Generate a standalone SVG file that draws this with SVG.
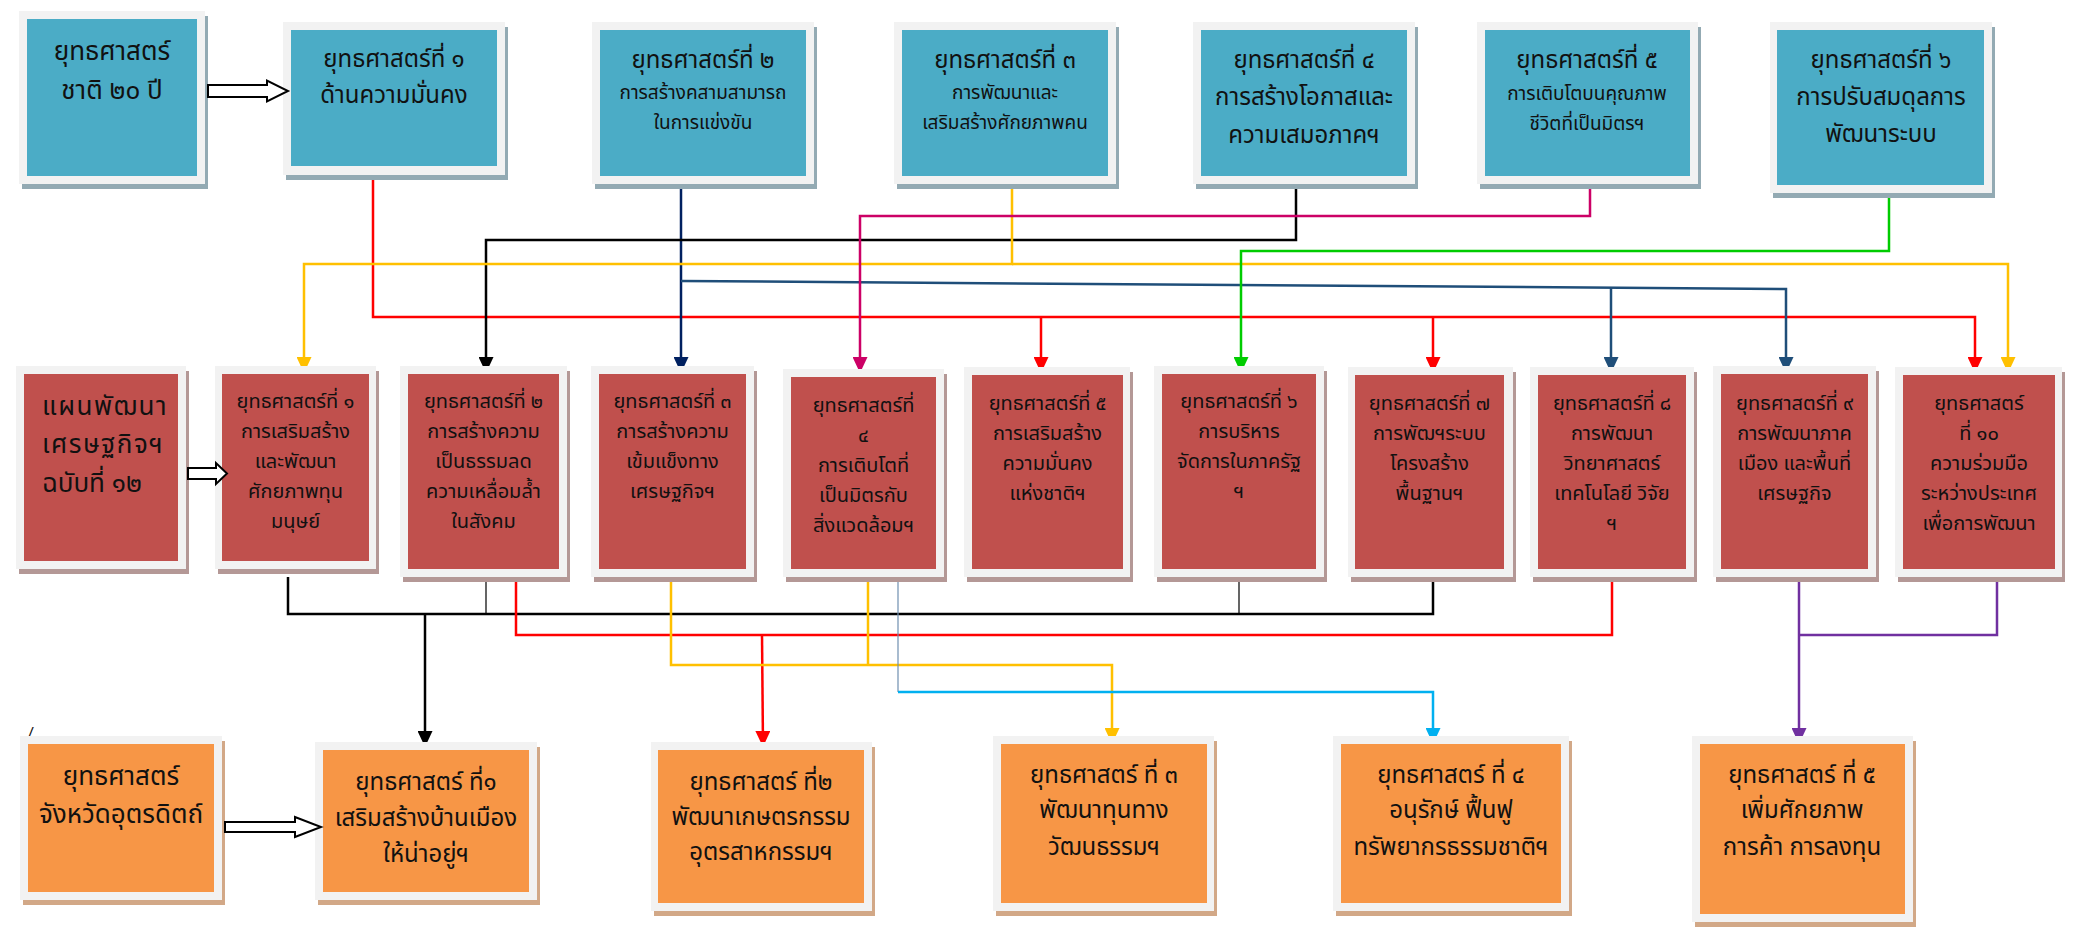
<svg xmlns="http://www.w3.org/2000/svg" width="2078" height="931" viewBox="0 0 2078 931">
<style>
.fr{fill:#f2f2f2}
.st{fill:#93aab3}
.sr{fill:#b49896}
.so{fill:#d2a887}
.teal{fill:#4bacc6}
.red{fill:#c0504d}
.org{fill:#f79646}
text{font-family:"Noto Sans Thai","Noto Sans","DejaVu Sans",sans-serif;fill:#111;text-anchor:middle}
.s26{font-size:26px}.s24{font-size:24px}.s19{font-size:19px}.s20{font-size:20px}
.lft{text-anchor:start;font-size:26px}
.c{fill:none;stroke-width:2.5}
.thin{fill:none;stroke-width:1.2}
.blk{fill:#fff;stroke:#000;stroke-width:2}
</style>
<defs>
<marker id="aR" markerUnits="userSpaceOnUse" markerWidth="16" markerHeight="15" refX="16" refY="7.5" orient="auto" viewBox="0 0 16 15"><path d="M0,0L16,7.5L0,15z" fill="#ff0000"/></marker>
<marker id="aY" markerUnits="userSpaceOnUse" markerWidth="16" markerHeight="15" refX="16" refY="7.5" orient="auto" viewBox="0 0 16 15"><path d="M0,0L16,7.5L0,15z" fill="#ffc000"/></marker>
<marker id="aN" markerUnits="userSpaceOnUse" markerWidth="16" markerHeight="15" refX="16" refY="7.5" orient="auto" viewBox="0 0 16 15"><path d="M0,0L16,7.5L0,15z" fill="#002060"/></marker>
<marker id="aS" markerUnits="userSpaceOnUse" markerWidth="16" markerHeight="15" refX="16" refY="7.5" orient="auto" viewBox="0 0 16 15"><path d="M0,0L16,7.5L0,15z" fill="#1f4e79"/></marker>
<marker id="aK" markerUnits="userSpaceOnUse" markerWidth="16" markerHeight="15" refX="16" refY="7.5" orient="auto" viewBox="0 0 16 15"><path d="M0,0L16,7.5L0,15z" fill="#000"/></marker>
<marker id="aM" markerUnits="userSpaceOnUse" markerWidth="16" markerHeight="15" refX="16" refY="7.5" orient="auto" viewBox="0 0 16 15"><path d="M0,0L16,7.5L0,15z" fill="#cc0066"/></marker>
<marker id="aG" markerUnits="userSpaceOnUse" markerWidth="16" markerHeight="15" refX="16" refY="7.5" orient="auto" viewBox="0 0 16 15"><path d="M0,0L16,7.5L0,15z" fill="#00cc00"/></marker>
<marker id="aB" markerUnits="userSpaceOnUse" markerWidth="16" markerHeight="15" refX="16" refY="7.5" orient="auto" viewBox="0 0 16 15"><path d="M0,0L16,7.5L0,15z" fill="#00b0f0"/></marker>
<marker id="aP" markerUnits="userSpaceOnUse" markerWidth="16" markerHeight="15" refX="16" refY="7.5" orient="auto" viewBox="0 0 16 15"><path d="M0,0L16,7.5L0,15z" fill="#7030a0"/></marker>
</defs>
<rect width="2078" height="931" fill="#fff"/>

<g id="connectors">
<path class="c" stroke="#ff0000" d="M373,177V317H1975V373" marker-end="url(#aR)"/>
<path class="c" stroke="#ff0000" d="M1041,317V373" marker-end="url(#aR)"/>
<path class="c" stroke="#ff0000" d="M1433,317V373" marker-end="url(#aR)"/>
<path class="c" stroke="#002060" d="M681,186V373" marker-end="url(#aN)"/>
<path class="c" stroke="#1f4e79" d="M681,281L1786,289V373" marker-end="url(#aS)"/>
<path class="c" stroke="#1f4e79" d="M1611,288V373" marker-end="url(#aS)"/>
<path class="c" stroke="#000" d="M1296,186V240H486V373" marker-end="url(#aK)"/>
<path class="c" stroke="#ffc000" d="M1012,186V264H304V373" marker-end="url(#aY)"/>
<path class="c" stroke="#ffc000" d="M1012,264H2008V373" marker-end="url(#aY)"/>
<path class="c" stroke="#cc0066" d="M1590,186V216H860V373" marker-end="url(#aM)"/>
<path class="c" stroke="#00cc00" d="M1889,195V251H1241V373" marker-end="url(#aG)"/>

<path class="c" stroke="#000" d="M288,577V614H1433V579"/>
<path class="thin" stroke="#000" d="M486,579V614M1239,579V614"/>
<path class="c" stroke="#000" d="M425,614V747" marker-end="url(#aK)"/>
<path class="c" stroke="#ff0000" d="M516,579V635H1612V579"/>
<path class="c" stroke="#ff0000" d="M762,635L763,747" marker-end="url(#aR)"/>
<path class="c" stroke="#ffc000" d="M671,579V665H1112V744" marker-end="url(#aY)"/>
<path class="c" stroke="#ffc000" d="M868,579V665"/>
<path class="thin" stroke="#6f8fb0" d="M898,579V692"/>
<path class="c" stroke="#00b0f0" d="M898,692H1433V744" marker-end="url(#aB)"/>
<path class="c" stroke="#7030a0" d="M1997,579V635H1799"/>
<path class="c" stroke="#7030a0" d="M1799,579V744" marker-end="url(#aP)"/>
</g>

<g id="nA"><rect class="st" x="22" y="16" width="186" height="173"/><rect class="fr" x="19" y="11" width="186" height="173"/><rect class="teal" x="27" y="19" width="170" height="157"/>
<text class="s26" x="112" y="60">ยุทธศาสตร์</text><text class="s26" x="112" y="99">ชาติ ๒๐ ปี</text></g>
<g id="nB"><rect class="st" x="286" y="27" width="222" height="153"/><rect class="fr" x="283" y="22" width="222" height="153"/><rect class="teal" x="291" y="30" width="206" height="136"/>
<text class="s24" x="394" y="67">ยุทธศาสตร์ที่ ๑</text><text class="s24" x="394" y="103">ด้านความมั่นคง</text></g>
<g id="nC"><rect class="st" x="595" y="27" width="222" height="162"/><rect class="fr" x="592" y="22" width="222" height="162"/><rect class="teal" x="600" y="30" width="206" height="146"/>
<text class="s24" x="703" y="68">ยุทธศาสตร์ที่ ๒</text><text class="s19" x="703" y="99">การสร้างคสามสามารถ</text><text class="s19" x="703" y="129">ในการแข่งขัน</text></g>
<g id="nD"><rect class="st" x="897" y="27" width="222" height="162"/><rect class="fr" x="894" y="22" width="222" height="162"/><rect class="teal" x="902" y="30" width="206" height="146"/>
<text class="s24" x="1005" y="68">ยุทธศาสตร์ที่ ๓</text><text class="s19" x="1005" y="99">การพัฒนาและ</text><text class="s19" x="1005" y="129">เสริมสร้างศักยภาพคน</text></g>
<g id="nE"><rect class="st" x="1196" y="27" width="222" height="162"/><rect class="fr" x="1193" y="22" width="222" height="162"/><rect class="teal" x="1201" y="30" width="206" height="146"/>
<text class="s24" x="1304" y="68">ยุทธศาสตร์ที่ ๔</text><text class="s24" x="1304" y="105">การสร้างโอกาสและ</text><text class="s24" x="1304" y="143">ความเสมอภาคฯ</text></g>
<g id="nF"><rect class="st" x="1480" y="27" width="221" height="162"/><rect class="fr" x="1477" y="22" width="221" height="162"/><rect class="teal" x="1485" y="30" width="205" height="146"/>
<text class="s24" x="1587" y="68">ยุทธศาสตร์ที่ ๕</text><text class="s19" x="1587" y="100">การเติบโตบนคุณภาพ</text><text class="s19" x="1587" y="130">ชีวิตที่เป็นมิตรฯ</text></g>
<g id="nG"><rect class="st" x="1773" y="27" width="222" height="171"/><rect class="fr" x="1770" y="22" width="222" height="171"/><rect class="teal" x="1777" y="30" width="207" height="155"/>
<text class="s24" x="1881" y="68">ยุทธศาสตร์ที่ ๖</text><text class="s24" x="1881" y="105">การปรับสมดุลการ</text><text class="s24" x="1881" y="142">พัฒนาระบบ</text></g>

<g id="nH"><rect class="sr" x="19" y="371" width="170" height="203"/><rect class="fr" x="16" y="366" width="170" height="203"/><rect class="red" x="24" y="374" width="154" height="187"/>
<text class="lft" x="42" y="415" letter-spacing="1.5">แผนพัฒนา</text><text class="lft" x="42" y="453" letter-spacing="1.5">เศรษฐกิจฯ</text><text class="lft" x="42" y="492">ฉบับที่ ๑๒</text></g>
<g id="m1"><rect class="sr" x="218" y="371" width="161" height="203"/><rect class="fr" x="215" y="366" width="161" height="203"/><rect class="red" x="222" y="374" width="147" height="187"/>
<text class="s20" x="295.5" y="408">ยุทธศาสตร์ที่ ๑</text><text class="s20" x="295.5" y="438">การเสริมสร้าง</text><text class="s20" x="295.5" y="468">และพัฒนา</text><text class="s20" x="295.5" y="498">ศักยภาพทุน</text><text class="s20" x="295.5" y="528">มนุษย์</text></g>
<g id="m2"><rect class="sr" x="403" y="371" width="167" height="211"/><rect class="fr" x="400" y="366" width="167" height="211"/><rect class="red" x="408" y="374" width="151" height="195"/>
<text class="s20" x="483.5" y="408">ยุทธศาสตร์ที่ ๒</text><text class="s20" x="483.5" y="438">การสร้างความ</text><text class="s20" x="483.5" y="468">เป็นธรรมลด</text><text class="s20" x="483.5" y="498">ความเหลื่อมล้ำ</text><text class="s20" x="483.5" y="528">ในสังคม</text></g>
<g id="m3"><rect class="sr" x="594" y="371" width="163" height="211"/><rect class="fr" x="591" y="366" width="163" height="211"/><rect class="red" x="599" y="374" width="147" height="195"/>
<text class="s20" x="672.5" y="408">ยุทธศาสตร์ที่ ๓</text><text class="s20" x="672.5" y="438">การสร้างความ</text><text class="s20" x="672.5" y="468">เข้มแข็งทาง</text><text class="s20" x="672.5" y="498">เศรษฐกิจฯ</text></g>
<g id="m4"><rect class="sr" x="786" y="374" width="161" height="208"/><rect class="fr" x="783" y="369" width="161" height="208"/><rect class="red" x="791" y="377" width="145" height="192"/>
<text class="s20" x="863.5" y="412">ยุทธศาสตร์ที่</text><text class="s20" x="863.5" y="442">๔</text><text class="s20" x="863.5" y="472">การเติบโตที่</text><text class="s20" x="863.5" y="502">เป็นมิตรกับ</text><text class="s20" x="863.5" y="532">สิ่งแวดล้อมฯ</text></g>
<g id="m5"><rect class="sr" x="967" y="372" width="166" height="210"/><rect class="fr" x="964" y="367" width="166" height="210"/><rect class="red" x="972" y="375" width="151" height="194"/>
<text class="s20" x="1047.5" y="410">ยุทธศาสตร์ที่ ๕</text><text class="s20" x="1047.5" y="440">การเสริมสร้าง</text><text class="s20" x="1047.5" y="470">ความมั่นคง</text><text class="s20" x="1047.5" y="500">แห่งชาติฯ</text></g>
<g id="m6"><rect class="sr" x="1157" y="371" width="170" height="211"/><rect class="fr" x="1154" y="366" width="170" height="211"/><rect class="red" x="1162" y="374" width="154" height="195"/>
<text class="s20" x="1239" y="408">ยุทธศาสตร์ที่ ๖</text><text class="s20" x="1239" y="438">การบริหาร</text><text class="s20" x="1239" y="468">จัดการในภาครัฐ</text><text class="s20" x="1239" y="498">ฯ</text></g>
<g id="m7"><rect class="sr" x="1351" y="372" width="165" height="210"/><rect class="fr" x="1348" y="367" width="165" height="210"/><rect class="red" x="1355" y="375" width="149" height="194"/>
<text class="s20" x="1429.5" y="410">ยุทธศาสตร์ที่ ๗</text><text class="s20" x="1429.5" y="440">การพัฒฯระบบ</text><text class="s20" x="1429.5" y="470">โครงสร้าง</text><text class="s20" x="1429.5" y="500">พื้นฐานฯ</text></g>
<g id="m8"><rect class="sr" x="1533" y="372" width="164" height="210"/><rect class="fr" x="1530" y="367" width="164" height="210"/><rect class="red" x="1538" y="375" width="148" height="194"/>
<text class="s20" x="1612" y="410">ยุทธศาสตร์ที่ ๘</text><text class="s20" x="1612" y="440">การพัฒนา</text><text class="s20" x="1612" y="470">วิทยาศาสตร์</text><text class="s20" x="1612" y="500">เทคโนโลยี วิจัย</text><text class="s20" x="1612" y="530">ฯ</text></g>
<g id="m9"><rect class="sr" x="1716" y="371" width="163" height="211"/><rect class="fr" x="1713" y="366" width="163" height="211"/><rect class="red" x="1721" y="374" width="147" height="195"/>
<text class="s20" x="1794.5" y="410">ยุทธศาสตร์ที่ ๙</text><text class="s20" x="1794.5" y="440">การพัฒนาภาค</text><text class="s20" x="1794.5" y="470">เมือง และพื้นที่</text><text class="s20" x="1794.5" y="500">เศรษฐกิจ</text></g>
<g id="m10"><rect class="sr" x="1898" y="372" width="167" height="210"/><rect class="fr" x="1895" y="367" width="167" height="210"/><rect class="red" x="1903" y="375" width="152" height="194"/>
<text class="s20" x="1979" y="410">ยุทธศาสตร์</text><text class="s20" x="1979" y="440">ที่ ๑๐</text><text class="s20" x="1979" y="470">ความร่วมมือ</text><text class="s20" x="1979" y="500">ระหว่างประเทศ</text><text class="s20" x="1979" y="530">เพื่อการพัฒนา</text></g>

<text x="31" y="737" style="font-size:15px">/</text>
<g id="o0"><rect class="so" x="23" y="741" width="202" height="164"/><rect class="fr" x="20" y="736" width="202" height="164"/><rect class="org" x="28" y="744" width="186" height="148"/>
<text class="s26" x="121" y="785">ยุทธศาสตร์</text><text class="s26" x="121" y="823">จังหวัดอุตรดิตถ์</text></g>
<g id="o1"><rect class="so" x="318" y="747" width="222" height="158"/><rect class="fr" x="315" y="742" width="222" height="158"/><rect class="org" x="323" y="750" width="206" height="142"/>
<text class="s24" x="426" y="790">ยุทธศาสตร์ ที่๑</text><text class="s24" x="426" y="826">เสริมสร้างบ้านเมือง</text><text class="s24" x="426" y="862">ให้น่าอยู่ฯ</text></g>
<g id="o2"><rect class="so" x="654" y="747" width="221" height="169"/><rect class="fr" x="651" y="742" width="221" height="169"/><rect class="org" x="658" y="750" width="206" height="153"/>
<text class="s24" x="761" y="790">ยุทธศาสตร์ ที่๒</text><text class="s24" x="761" y="825">พัฒนาเกษตรกรรม</text><text class="s24" x="761" y="860">อุตรสาหกรรมฯ</text></g>
<g id="o3"><rect class="so" x="996" y="741" width="221" height="175"/><rect class="fr" x="993" y="736" width="221" height="175"/><rect class="org" x="1001" y="744" width="206" height="159"/>
<text class="s24" x="1104" y="783">ยุทธศาสตร์ ที่ ๓</text><text class="s24" x="1104" y="818">พัฒนาทุนทาง</text><text class="s24" x="1104" y="855">วัฒนธรรมฯ</text></g>
<g id="o4"><rect class="so" x="1336" y="741" width="236" height="175"/><rect class="fr" x="1333" y="736" width="236" height="175"/><rect class="org" x="1341" y="744" width="220" height="159"/>
<text class="s24" x="1451" y="783">ยุทธศาสตร์ ที่ ๔</text><text class="s24" x="1451" y="818">อนุรักษ์ ฟื้นฟู</text><text class="s24" x="1451" y="855">ทรัพยากรธรรมชาติฯ</text></g>
<g id="o5"><rect class="so" x="1695" y="741" width="221" height="186"/><rect class="fr" x="1692" y="736" width="221" height="186"/><rect class="org" x="1700" y="744" width="205" height="170"/>
<text class="s24" x="1802" y="783">ยุทธศาสตร์ ที่ ๕</text><text class="s24" x="1802" y="818">เพิ่มศักยภาพ</text><text class="s24" x="1802" y="855">การค้า การลงทุน</text></g>

<g id="block-arrows">
<polygon class="blk" points="208,85 267,85 267,80.5 288,91 267,101.5 267,97 208,97"/>
<polygon class="blk" points="188,468 216,468 216,463 227,473.5 216,484 216,479 188,479"/>
<polygon class="blk" points="225,822 295,822 295,817 321,827 295,837 295,832 225,832"/>
</g>
</svg>
